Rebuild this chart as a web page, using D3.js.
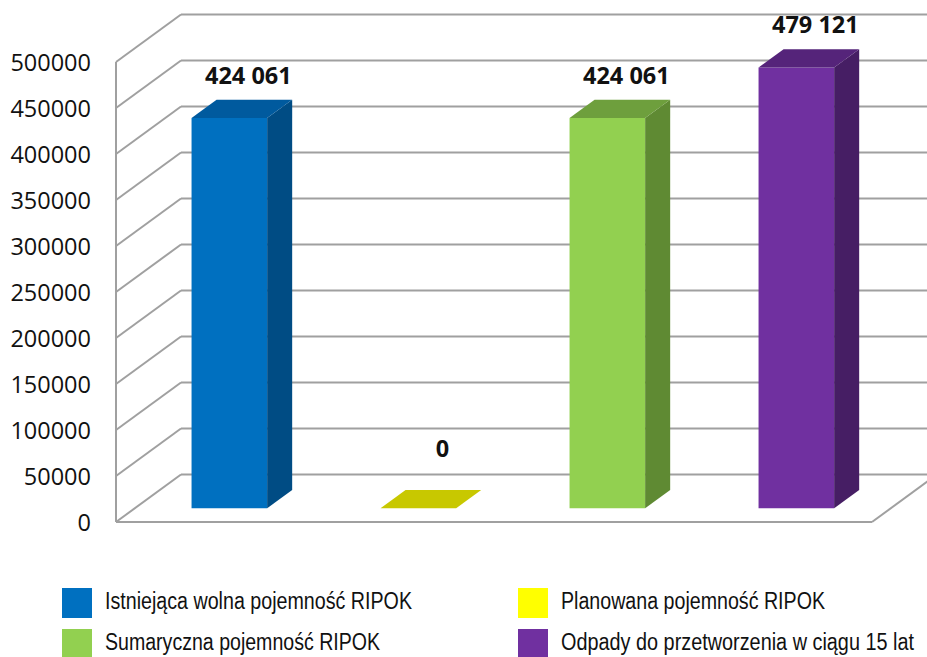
<!DOCTYPE html>
<html lang="pl">
<head>
<meta charset="UTF-8">
<title>Pojemność RIPOK</title>
<script src="https://d3js.org/d3.v7.min.js"></script>
<style>
  body, html { margin: 0; padding: 0; background: #fff; overflow: hidden; }
  svg { display: block; }
  .tick-label { font-family: "Open Sans", sans-serif; font-size: 23.5px; fill: #111; }
  .value-label { font-family: "Open Sans", sans-serif; font-weight: bold; font-size: 23.5px; fill: #111; }
  .legend-label { font-family: "Liberation Sans", Arial, sans-serif; font-size: 23px; fill: #111; }
</style>
</head>
<body>
<svg></svg>
<script>
  // data
  const categories = [
    "Istniejąca wolna pojemność RIPOK",
    "Planowana pojemność RIPOK",
    "Sumaryczna pojemność RIPOK",
    "Odpady do przetworzenia w ciągu 15 lat"
  ];
  const values = [424061, 0, 424061, 479121];
  const valueLabels = ["424 061", "0", "424 061", "479 121"];
  const yTicks = [0, 50000, 100000, 150000, 200000, 250000, 300000, 350000, 400000, 450000, 500000];

  const faceColors = ["#0070c0", "#ffff00", "#92d050", "#7030a0"];
  const topColors  = ["#005a9e", "#c8c800", "#6e9f3d", "#55247a"];
  const sideColors = ["#004c84", "#a8a800", "#5f8a33", "#461e64"];

  const width = 927, height = 657;
  const svg = d3.select("svg").attr("width", width).attr("height", height);

  // front plane scales
  const x = d3.scaleBand().domain(categories).range([116, 872]).paddingInner(0.6).paddingOuter(0.3);
  const y = d3.scaleLinear().domain([0, 500000]).range([522, 62]);

  // depth projection
  const DX = 65, DY = -47.5;
  const proj = (px, py, d) => [px + d * DX, py + d * DY];
  const f0 = 0.29, f1 = 0.675;  // bar front / back depth

  const gridColor = "#a0a0a0";
  const grid = svg.append("g").attr("stroke", gridColor).attr("stroke-width", 2).attr("fill", "none");

  // back wall + side wall lines
  yTicks.forEach(t => {
    const [bx, by] = proj(116, y(t), 1);
    grid.append("line").attr("x1", bx).attr("y1", by).attr("x2", 940).attr("y2", by);
    grid.append("line").attr("x1", 116).attr("y1", y(t)).attr("x2", bx).attr("y2", by);
  });
  // front left edge
  grid.append("line").attr("x1", 116).attr("y1", y(500000)).attr("x2", 116).attr("y2", y(0));
  // floor front edge + right edge
  const [rbx, rby] = proj(872, y(0), 1);
  grid.append("line").attr("x1", 116).attr("y1", y(0)).attr("x2", 872).attr("y2", y(0));
  grid.append("line").attr("x1", 872).attr("y1", y(0)).attr("x2", rbx).attr("y2", rby);

  // y tick labels
  svg.append("g").selectAll("text").data(yTicks).join("text")
    .attr("class", "tick-label")
    .attr("x", 91)
    .attr("y", d => y(d) + 3)
    .attr("text-anchor", "end")
    .attr("dominant-baseline", "middle")
    .text(d => d);

  // bars
  const bars = svg.append("g");
  categories.forEach((c, i) => {
    const x0 = x(c), x1 = x(c) + x.bandwidth();
    const yt = y(values[i]), yb = y(0);
    const g = bars.append("g");
    const pts = a => a.map(p => p.join(",")).join(" ");
    if (values[i] > 0) {
      // front face
      const A = proj(x0, yt, f0), B = proj(x1, yt, f0), C = proj(x1, yb, f0), D = proj(x0, yb, f0);
      g.append("polygon").attr("points", pts([A, B, C, D])).attr("fill", faceColors[i]);
      // side face
      const E = proj(x1, yt, f1), F = proj(x1, yb, f1);
      g.append("polygon").attr("points", pts([B, E, F, C])).attr("fill", sideColors[i]);
      // top face
      const G = proj(x0, yt, f1);
      g.append("polygon").attr("points", pts([A, G, E, B])).attr("fill", topColors[i]);
    } else {
      const A = proj(x0, yb, f0), B = proj(x1, yb, f0), E = proj(x1, yb, f1), G = proj(x0, yb, f1);
      g.append("polygon").attr("points", pts([A, G, E, B])).attr("fill", topColors[i]);
    }
    // value label
    const [fx, fy] = proj(x0 + x.bandwidth() / 2, yt, f0);
    const floorY = proj(0, yb, f0)[1];
    bars.append("text")
      .attr("class", "value-label")
      .attr("x", fx + (values[i] > 0 ? 19 : 24))
      .attr("y", Math.min(fy - 34, floorY - 51))
      .attr("text-anchor", "middle")
      .text(valueLabels[i]);
  });

  // legend (narrow font look via textLength)
  const legendPos = [[62, 588], [518, 588], [62, 629], [518, 629]];
  const legendWidths = [307, 264, 275, 353];
  const legend = svg.append("g");
  categories.forEach((c, i) => {
    const [lx, ly] = legendPos[i];
    legend.append("rect").attr("x", lx).attr("y", ly).attr("width", 30).attr("height", 30).attr("fill", faceColors[i]);
    legend.append("text").attr("class", "legend-label")
      .attr("x", lx + 43).attr("y", ly + 21)
      .attr("textLength", legendWidths[i])
      .attr("lengthAdjust", "spacingAndGlyphs")
      .text(c);
  });
</script>
</body>
</html>
